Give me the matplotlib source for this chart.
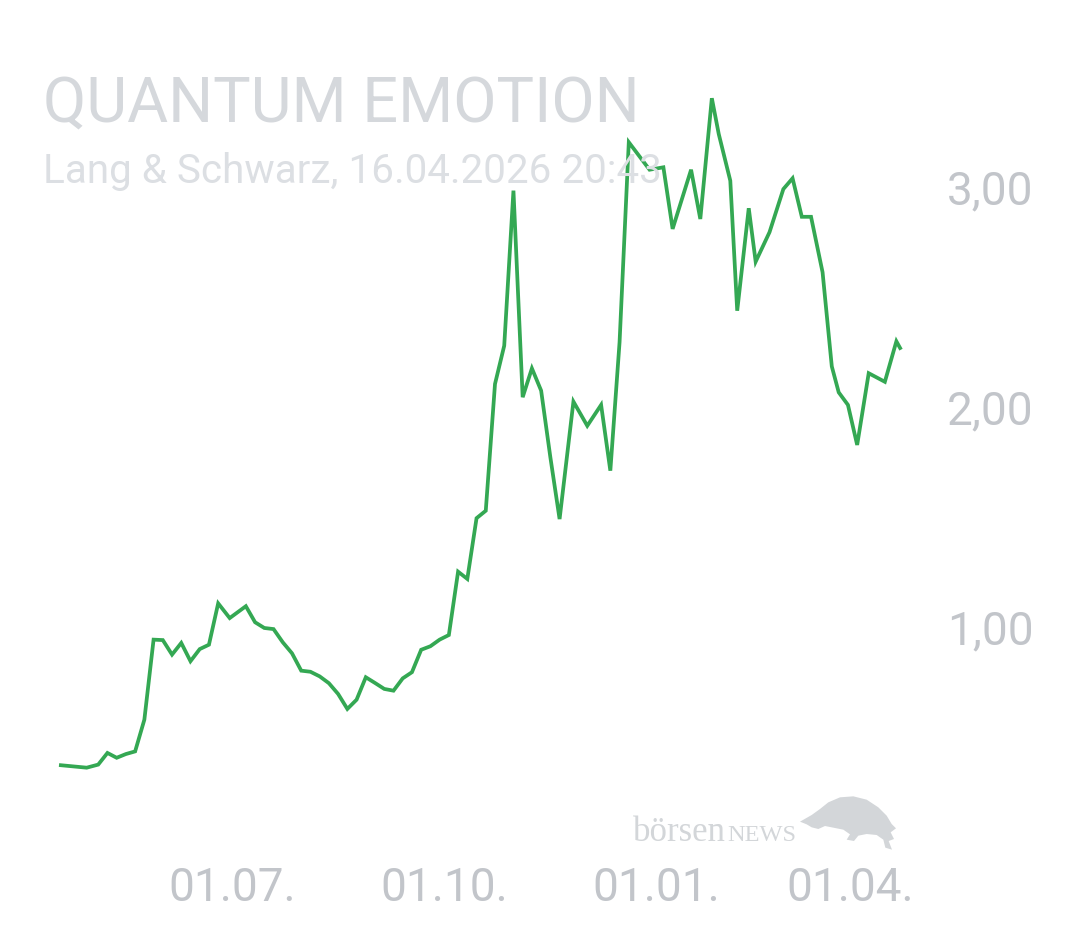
import matplotlib
matplotlib.use("Agg")
import matplotlib.pyplot as plt
import matplotlib.dates as mdates
from matplotlib.transforms import ScaledTranslation
from matplotlib.patches import Polygon
import numpy as np

# ---------------- data ----------------
dates = [
    "2025-04-17", "2025-04-29", "2025-05-04", "2025-05-08", "2025-05-12", "2025-05-16",
    "2025-05-20", "2025-05-24", "2025-05-28", "2025-06-01", "2025-06-05", "2025-06-09",
    "2025-06-13", "2025-06-17", "2025-06-21", "2025-06-25", "2025-06-30", "2025-07-07",
    "2025-07-11", "2025-07-15", "2025-07-19", "2025-07-23", "2025-07-27", "2025-07-31",
    "2025-08-04", "2025-08-08", "2025-08-12", "2025-08-16", "2025-08-20", "2025-08-24",
    "2025-08-28", "2025-09-01", "2025-09-05", "2025-09-09", "2025-09-13", "2025-09-17",
    "2025-09-21", "2025-09-25", "2025-09-29", "2025-10-03", "2025-10-07", "2025-10-11",
    "2025-10-15", "2025-10-19", "2025-10-23", "2025-10-27", "2025-10-31", "2025-11-04",
    "2025-11-08", "2025-11-12", "2025-11-16", "2025-11-20", "2025-11-26", "2025-12-02",
    "2025-12-08", "2025-12-12", "2025-12-16", "2025-12-20", "2025-12-29", "2026-01-04",
    "2026-01-08", "2026-01-16", "2026-01-20", "2026-01-25", "2026-01-28", "2026-02-02",
    "2026-02-05", "2026-02-10", "2026-02-13", "2026-02-19", "2026-02-25", "2026-03-01",
    "2026-03-05", "2026-03-09", "2026-03-14", "2026-03-18", "2026-03-21", "2026-03-25",
    "2026-03-29", "2026-04-03", "2026-04-10", "2026-04-15", "2026-04-17",
]
prices = [
    0.368, 0.356, 0.370, 0.423, 0.401, 0.418,
    0.430, 0.574, 0.938, 0.936, 0.870, 0.923,
    0.840, 0.895, 0.915, 1.103, 1.036, 1.090,
    1.017, 0.991, 0.986, 0.926, 0.876, 0.797,
    0.792, 0.771, 0.740, 0.691, 0.623, 0.665,
    0.767, 0.741, 0.714, 0.706, 0.762, 0.790,
    0.892, 0.908, 0.938, 0.959, 1.247, 1.214,
    1.490, 1.524, 2.100, 2.274, 2.979, 2.040,
    2.171, 2.070, 1.767, 1.486, 2.020, 1.910,
    2.005, 1.706, 2.290, 3.199, 3.074, 3.085,
    2.805, 3.074, 2.850, 3.399, 3.236, 3.024,
    2.433, 2.899, 2.656, 2.790, 2.986, 3.035,
    2.860, 2.860, 2.608, 2.180, 2.062, 2.005,
    1.823, 2.149, 2.110, 2.294, 2.256,
]
ytick_values = [1, 2, 3]
ytick_labels = ["1,00", "2,00", "3,00"]
xtick_dates = ["2025-07-01", "2025-10-01", "2026-01-01", "2026-04-01"]
xtick_labels = ["01.07.", "01.10.", "01.01.", "01.04."]
title = "QUANTUM EMOTION"
subtitle = "Lang & Schwarz, 16.04.2026 20:43"

# ---------------- figure ----------------
W, H = 1080, 945
fig = plt.figure(figsize=(W / 100, H / 100), dpi=100)
fig.patch.set_facecolor("white")

FONT = ["Roboto", "DejaVu Sans"]
SERIF = ["Liberation Serif", "DejaVu Serif"]

# axes placement in pixels
ax_left, ax_right = 59.0, 901.0
ax_top, ax_bottom = 95.0, 790.0
ax = fig.add_axes([ax_left / W, (H - ax_bottom) / H,
                   (ax_right - ax_left) / W, (ax_bottom - ax_top) / H])
ax.set_facecolor("none")

x = np.array(dates, dtype="datetime64[D]").astype("O")
ax.plot(x, prices, color="#34a853", lw=2.7, solid_joinstyle="miter",
        solid_capstyle="butt", clip_on=False, zorder=3)

ax.set_xlim(mdates.datestr2num(dates[0]), mdates.datestr2num(dates[-1]))
ax.set_ylim((847 - ax_bottom) / 220.0, (847 - ax_top) / 220.0)

for s in ax.spines.values():
    s.set_visible(False)

tick_color = "#c2c5ca"
ax.yaxis.tick_right()
ax.set_yticks(ytick_values)
ax.set_yticklabels(ytick_labels, fontfamily=FONT, fontsize=33, color=tick_color)
ax.tick_params(axis="y", length=0, pad=33)

ax.set_xticks([mdates.datestr2num(d) for d in xtick_dates])
ax.set_xticklabels(xtick_labels, fontfamily=FONT, fontsize=33, color=tick_color)
ax.tick_params(axis="x", length=0, pad=55)

# last label shifted left to stay inside
lbl = ax.get_xticklabels()[-1]
lbl.set_transform(lbl.get_transform() + ScaledTranslation(-14 / 100, 0, fig.dpi_scale_trans))

# ---------------- title texts ----------------
renderer = fig.canvas.get_renderer()

def fitted_text(s, x_px, base_px, width_px, color, size0, family=FONT):
    t = fig.text(x_px / W, (H - base_px) / H, s, fontfamily=family, fontsize=size0,
                 color=color, va="baseline", ha="left")
    w = t.get_window_extent(renderer).width
    t.set_fontsize(size0 * width_px / w)
    return t

fitted_text(title, 43, 122, 597, "#d5d8dc", 48)
fitted_text(subtitle, 43, 183, 619, "#dcdfe3", 28)

# ---------------- watermark ----------------
logo_color = "#d3d6d9"
t1 = fitted_text("börsen", 633, 841, 93, logo_color, 25, family=SERIF)
t2 = fitted_text("NEWS", 727, 841, 69, logo_color, 17, family=SERIF)

bull_crop = [
    (540, 128), (575, 108), (600, 90), (625, 70), (660, 55), (700, 52), (740, 62),
    (775, 85), (800, 110), (815, 135), (828, 148), (812, 160), (822, 180), (806, 186),
    (816, 212), (796, 206), (790, 182), (770, 168), (740, 165), (715, 170), (702, 186),
    (680, 182), (690, 166), (670, 152), (640, 146), (615, 141), (595, 150), (575, 145),
    (560, 136),
]
bull_px = [(620 + cx / 3.0, H - (780 + cy / 3.0)) for cx, cy in bull_crop]
bull_fig = [(px / W, py / H) for px, py in bull_px]
fig.patches.append(Polygon(bull_fig, closed=True, transform=fig.transFigure,
                           facecolor=logo_color, edgecolor="none", zorder=1))

fig.savefig("out.png", dpi=100, facecolor="white")
